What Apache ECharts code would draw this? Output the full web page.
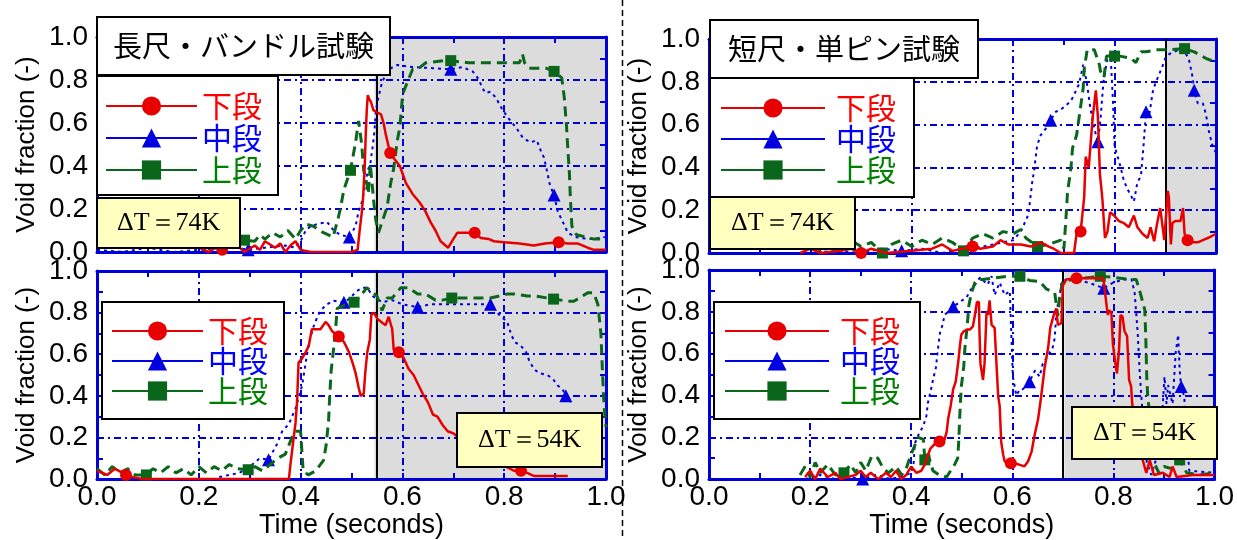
<!DOCTYPE html>
<html>
<head>
<meta charset="utf-8">
<script src="https://cdn.jsdelivr.net/npm/echarts@6/dist/echarts.min.js"></script>
<style>
html,body{margin:0;padding:0;background:#fff}
#chart{width:1237px;height:540px}
</style>
</head>
<body>
<div id="chart"></div>
<script>
// ---------------- data ----------------
const SERIES_NAMES = ['下段', '中段', '上段'];
const PANEL_TITLES = ['長尺・バンドル試験', '短尺・単ピン試験'];
const DT_LABELS = ['ΔT＝74K', 'ΔT＝74K', 'ΔT＝54K', 'ΔT＝54K'];
const SHADE_START = [0.545, 0.903, 0.545, 0.703];   // start of shaded time window, s
const X_NAME = 'Time (seconds)';
const Y_NAME = 'Void fraction (-)';

// long bundle, ΔT = 74 K
const TL_RED = [[0.20,0.02],[0.22,0.0],[0.24,0.03],[0.27,0.04],[0.29,0.0],[0.31,0.03],[0.32,0.01],[0.33,0.05],[0.35,0.02],[0.36,0.04],[0.37,0.0],[0.38,0.03],[0.39,0.05],[0.40,0.01],[0.42,0.0],[0.46,0.0],[0.50,0.0],[0.512,0.01],[0.516,0.10],[0.52,0.18],[0.523,0.26],[0.526,0.40],[0.528,0.55],[0.53,0.66],[0.532,0.73],[0.535,0.71],[0.538,0.70],[0.543,0.66],[0.55,0.65],[0.558,0.64],[0.563,0.60],[0.568,0.54],[0.585,0.43],[0.595,0.40],[0.607,0.32],[0.62,0.27],[0.634,0.23],[0.645,0.19],[0.655,0.14],[0.665,0.10],[0.675,0.05],[0.69,0.02],[0.70,0.06],[0.708,0.09],[0.72,0.09],[0.734,0.09],[0.754,0.065],[0.77,0.06],[0.78,0.05],[0.80,0.045],[0.83,0.04],[0.858,0.03],[0.88,0.04],[0.925,0.04],[0.944,0.04],[0.964,0.02],[0.976,0.01],[1.0,0.01]];
const TL_RED_MARKS = [[0.246,0.01],[0.576,0.46],[0.742,0.09],[0.907,0.045]];
const TL_BLUE = [[0.0,0.01],[0.05,0.0],[0.10,0.02],[0.15,0.0],[0.20,0.01],[0.25,0.02],[0.26,0.03],[0.33,0.02],[0.37,0.03],[0.39,0.02],[0.40,0.05],[0.41,0.10],[0.42,0.12],[0.433,0.13],[0.452,0.14],[0.465,0.10],[0.478,0.08],[0.508,0.12],[0.514,0.19],[0.52,0.23],[0.526,0.30],[0.532,0.38],[0.537,0.41],[0.541,0.48],[0.545,0.56],[0.548,0.66],[0.553,0.72],[0.56,0.79],[0.573,0.85],[0.59,0.87],[0.62,0.86],[0.66,0.855],[0.718,0.86],[0.738,0.84],[0.748,0.81],[0.758,0.76],[0.763,0.74],[0.773,0.745],[0.783,0.72],[0.797,0.66],[0.809,0.62],[0.823,0.58],[0.837,0.53],[0.852,0.51],[0.864,0.52],[0.872,0.47],[0.878,0.44],[0.882,0.40],[0.89,0.31],[0.905,0.19],[0.915,0.14],[0.925,0.09],[0.94,0.07],[0.951,0.065],[0.974,0.06],[1.0,0.07]];
const TL_BLUE_MARKS = [[0.297,0.01],[0.496,0.07],[0.695,0.85],[0.898,0.265]];
const TL_GREEN = [[0.0,0.03],[0.05,0.05],[0.10,0.02],[0.15,0.06],[0.20,0.03],[0.25,0.07],[0.27,0.04],[0.31,0.05],[0.32,0.08],[0.33,0.06],[0.345,0.09],[0.36,0.07],[0.375,0.10],[0.39,0.06],[0.40,0.10],[0.41,0.13],[0.425,0.12],[0.445,0.09],[0.464,0.07],[0.474,0.16],[0.478,0.20],[0.485,0.29],[0.508,0.51],[0.514,0.61],[0.52,0.50],[0.524,0.38],[0.53,0.32],[0.533,0.27],[0.537,0.41],[0.543,0.25],[0.547,0.16],[0.553,0.09],[0.563,0.16],[0.57,0.21],[0.577,0.32],[0.583,0.39],[0.59,0.52],[0.595,0.58],[0.60,0.72],[0.603,0.75],[0.62,0.85],[0.63,0.85],[0.646,0.88],[0.68,0.89],[0.73,0.88],[0.764,0.88],[0.807,0.88],[0.83,0.88],[0.836,0.92],[0.84,0.88],[0.848,0.855],[0.882,0.855],[0.913,0.81],[0.918,0.72],[0.922,0.60],[0.925,0.48],[0.928,0.37],[0.93,0.25],[0.933,0.12],[0.942,0.08],[0.96,0.07],[0.976,0.06],[1.0,0.06]];
const TL_GREEN_MARKS = [[0.29,0.055],[0.498,0.38],[0.695,0.89],[0.898,0.84]];

// short single pin, ΔT = 74 K
const TR_RED = [[0.18,0.0],[0.20,0.02],[0.22,0.0],[0.26,0.01],[0.28,0.02],[0.32,0.02],[0.35,0.0],[0.40,0.01],[0.44,0.02],[0.46,0.04],[0.48,0.01],[0.50,0.02],[0.535,0.02],[0.56,0.03],[0.575,0.06],[0.59,0.04],[0.615,0.04],[0.635,0.03],[0.655,0.05],[0.67,0.03],[0.68,0.02],[0.694,0.0],[0.72,0.0],[0.725,0.09],[0.74,0.26],[0.743,0.45],[0.749,0.40],[0.757,0.64],[0.763,0.76],[0.767,0.64],[0.771,0.37],[0.776,0.25],[0.779,0.14],[0.781,0.07],[0.786,0.10],[0.791,0.19],[0.799,0.175],[0.808,0.15],[0.818,0.14],[0.828,0.12],[0.838,0.175],[0.845,0.12],[0.855,0.09],[0.865,0.07],[0.871,0.12],[0.878,0.055],[0.884,0.14],[0.89,0.21],[0.898,0.06],[0.905,0.29],[0.907,0.26],[0.911,0.04],[0.914,0.14],[0.92,0.15],[0.93,0.15],[0.935,0.21],[0.938,0.09],[0.954,0.05],[0.964,0.05],[0.974,0.06],[0.984,0.07],[1.0,0.09]];
const TR_RED_MARKS = [[0.30,0.0],[0.52,0.03],[0.733,0.10],[0.944,0.06]];
const TR_BLUE = [[0.20,0.0],[0.25,0.01],[0.30,0.0],[0.34,0.02],[0.42,0.02],[0.46,0.0],[0.50,0.02],[0.54,0.03],[0.58,0.05],[0.60,0.06],[0.615,0.10],[0.63,0.18],[0.638,0.34],[0.641,0.38],[0.647,0.50],[0.654,0.55],[0.664,0.58],[0.684,0.66],[0.694,0.67],[0.704,0.69],[0.714,0.71],[0.73,0.79],[0.738,0.88],[0.745,0.80],[0.752,0.68],[0.76,0.58],[0.772,0.62],[0.778,0.80],[0.785,0.90],[0.792,0.93],[0.797,0.70],[0.80,0.50],[0.806,0.45],[0.812,0.40],[0.818,0.34],[0.825,0.30],[0.832,0.27],[0.838,0.24],[0.845,0.33],[0.852,0.36],[0.857,0.50],[0.868,0.64],[0.875,0.75],[0.88,0.79],[0.887,0.83],[0.894,0.87],[0.90,0.91],[0.908,0.93],[0.927,0.95],[0.937,0.95],[0.947,0.90],[0.954,0.82],[0.964,0.70],[0.974,0.70],[0.98,0.65],[0.986,0.57],[0.994,0.49],[1.0,0.47]];
const TR_BLUE_MARKS = [[0.38,0.01],[0.674,0.62],[0.767,0.52],[0.862,0.66],[0.957,0.76]];
const TR_GREEN = [[0.18,0.02],[0.20,0.05],[0.22,0.01],[0.24,0.04],[0.26,0.02],[0.28,0.06],[0.30,0.03],[0.32,0.05],[0.36,0.04],[0.38,0.06],[0.40,0.03],[0.42,0.06],[0.44,0.04],[0.46,0.07],[0.48,0.05],[0.52,0.07],[0.54,0.09],[0.56,0.07],[0.58,0.10],[0.60,0.09],[0.615,0.11],[0.625,0.07],[0.67,0.04],[0.694,0.06],[0.70,0.02],[0.704,0.16],[0.707,0.28],[0.714,0.40],[0.717,0.49],[0.725,0.55],[0.731,0.65],[0.738,0.77],[0.74,0.86],[0.746,0.95],[0.76,0.95],[0.77,0.88],[0.772,0.85],[0.779,0.82],[0.784,0.92],[0.81,0.92],[0.832,0.91],[0.842,0.89],[0.852,0.94],[0.862,0.94],[0.885,0.95],[0.905,0.95],[0.957,0.94],[0.98,0.91],[1.0,0.89]];
const TR_GREEN_MARKS = [[0.342,0.0],[0.502,0.01],[0.648,0.03],[0.80,0.92],[0.938,0.955]];

// long bundle, ΔT = 54 K
const BL_RED = [[0.0,0.04],[0.02,0.02],[0.035,0.05],[0.07,0.01],[0.09,0.0],[0.2,0.0],[0.3,0.0],[0.377,0.0],[0.38,0.07],[0.385,0.17],[0.39,0.27],[0.393,0.37],[0.396,0.56],[0.403,0.58],[0.41,0.61],[0.416,0.64],[0.422,0.72],[0.43,0.72],[0.439,0.72],[0.449,0.755],[0.455,0.74],[0.462,0.71],[0.485,0.66],[0.495,0.61],[0.502,0.56],[0.508,0.51],[0.514,0.44],[0.518,0.40],[0.524,0.41],[0.527,0.51],[0.531,0.61],[0.536,0.67],[0.539,0.79],[0.544,0.80],[0.551,0.77],[0.561,0.75],[0.567,0.74],[0.573,0.78],[0.58,0.72],[0.583,0.62],[0.603,0.58],[0.612,0.53],[0.622,0.50],[0.632,0.45],[0.64,0.41],[0.65,0.37],[0.66,0.31],[0.669,0.30],[0.679,0.26],[0.689,0.23],[0.70,0.22],[0.72,0.18],[0.75,0.13],[0.77,0.10],[0.793,0.07],[0.807,0.055],[0.82,0.04],[0.845,0.03],[0.858,0.015],[0.9,0.015],[0.925,0.015]];
const BL_RED_MARKS = [[0.057,0.02],[0.475,0.685],[0.593,0.61],[0.833,0.04]];
const BL_BLUE = [[0.24,0.01],[0.28,0.03],[0.30,0.06],[0.31,0.08],[0.32,0.10],[0.354,0.17],[0.364,0.23],[0.377,0.265],[0.39,0.34],[0.396,0.39],[0.403,0.45],[0.41,0.56],[0.416,0.65],[0.425,0.73],[0.433,0.78],[0.439,0.81],[0.452,0.84],[0.465,0.857],[0.498,0.87],[0.508,0.90],[0.521,0.92],[0.531,0.92],[0.541,0.88],[0.56,0.85],[0.58,0.86],[0.60,0.84],[0.655,0.84],[0.70,0.84],[0.74,0.84],[0.79,0.79],[0.806,0.755],[0.813,0.70],[0.82,0.66],[0.833,0.64],[0.843,0.61],[0.849,0.57],[0.858,0.53],[0.868,0.51],[0.885,0.50],[0.896,0.48],[0.905,0.45],[0.915,0.43],[0.931,0.37]];
const BL_BLUE_MARKS = [[0.337,0.093],[0.485,0.85],[0.63,0.826],[0.773,0.84],[0.921,0.40]];
const BL_GREEN = [[0.0,0.05],[0.015,0.02],[0.03,0.06],[0.045,0.03],[0.06,0.05],[0.075,0.02],[0.11,0.05],[0.125,0.03],[0.14,0.06],[0.155,0.03],[0.17,0.05],[0.185,0.02],[0.20,0.06],[0.215,0.03],[0.23,0.06],[0.245,0.04],[0.26,0.07],[0.275,0.05],[0.31,0.06],[0.325,0.04],[0.34,0.07],[0.355,0.10],[0.37,0.12],[0.383,0.20],[0.39,0.23],[0.40,0.23],[0.405,0.04],[0.415,0.02],[0.43,0.04],[0.445,0.09],[0.45,0.16],[0.455,0.28],[0.457,0.39],[0.46,0.52],[0.465,0.63],[0.469,0.73],[0.472,0.82],[0.49,0.84],[0.51,0.86],[0.524,0.90],[0.53,0.92],[0.55,0.88],[0.56,0.81],[0.57,0.87],[0.58,0.87],[0.597,0.92],[0.612,0.92],[0.63,0.89],[0.645,0.89],[0.665,0.86],[0.678,0.86],[0.73,0.87],[0.75,0.87],[0.773,0.87],[0.807,0.89],[0.82,0.89],[0.846,0.88],[0.862,0.88],[0.925,0.855],[0.937,0.855],[0.964,0.895],[0.976,0.895],[0.984,0.84],[0.99,0.70],[0.993,0.52],[0.996,0.36],[1.0,0.25]];
const BL_GREEN_MARKS = [[0.097,0.02],[0.297,0.045],[0.505,0.85],[0.697,0.87],[0.897,0.865]];

// short single pin, ΔT = 54 K
const BR_RED = [[0.19,0.01],[0.20,0.04],[0.21,0.0],[0.22,0.05],[0.235,0.01],[0.25,0.03],[0.26,0.0],[0.29,0.02],[0.30,0.04],[0.31,0.01],[0.32,0.03],[0.335,0.0],[0.35,0.03],[0.36,0.01],[0.37,0.04],[0.38,0.0],[0.39,0.02],[0.40,0.06],[0.41,0.03],[0.42,0.04],[0.427,0.07],[0.433,0.115],[0.438,0.146],[0.447,0.17],[0.466,0.19],[0.47,0.225],[0.473,0.287],[0.478,0.35],[0.483,0.43],[0.488,0.466],[0.493,0.56],[0.496,0.63],[0.499,0.69],[0.504,0.707],[0.51,0.715],[0.516,0.715],[0.522,0.73],[0.526,0.785],[0.53,0.847],[0.534,0.847],[0.535,0.707],[0.537,0.551],[0.542,0.474],[0.545,0.551],[0.547,0.676],[0.549,0.80],[0.552,0.785],[0.555,0.855],[0.559,0.738],[0.565,0.723],[0.569,0.535],[0.572,0.396],[0.575,0.349],[0.578,0.178],[0.582,0.115],[0.585,0.084],[0.605,0.076],[0.615,0.068],[0.624,0.061],[0.631,0.084],[0.638,0.13],[0.644,0.21],[0.651,0.287],[0.657,0.395],[0.664,0.535],[0.671,0.63],[0.675,0.723],[0.682,0.785],[0.687,0.816],[0.69,0.738],[0.697,0.746],[0.70,0.925],[0.707,0.955],[0.75,0.96],[0.78,0.96],[0.787,0.82],[0.789,0.785],[0.792,0.808],[0.796,0.793],[0.799,0.645],[0.804,0.551],[0.807,0.505],[0.811,0.614],[0.814,0.785],[0.818,0.777],[0.822,0.707],[0.827,0.684],[0.831,0.474],[0.835,0.443],[0.837,0.364],[0.845,0.22],[0.852,0.12],[0.858,0.09],[0.865,0.03],[0.872,0.09],[0.88,0.02],[0.898,0.03],[0.911,0.01],[0.917,0.06],[0.925,0.01],[0.957,0.02],[1.0,0.02]];
const BR_RED_MARKS = [[0.456,0.18],[0.597,0.076],[0.727,0.96]];
const BR_BLUE = [[0.19,0.0],[0.22,0.02],[0.25,0.0],[0.28,0.01],[0.33,0.02],[0.36,0.0],[0.39,0.02],[0.40,0.03],[0.405,0.08],[0.407,0.17],[0.414,0.21],[0.424,0.255],[0.43,0.302],[0.433,0.364],[0.439,0.427],[0.443,0.474],[0.449,0.535],[0.451,0.582],[0.454,0.645],[0.457,0.70],[0.462,0.738],[0.466,0.785],[0.496,0.847],[0.51,0.87],[0.516,0.90],[0.525,0.925],[0.536,0.964],[0.551,0.93],[0.559,0.97],[0.565,0.88],[0.575,0.94],[0.585,0.88],[0.595,0.90],[0.601,0.49],[0.608,0.40],[0.615,0.43],[0.621,0.43],[0.645,0.52],[0.654,0.49],[0.66,0.55],[0.668,0.58],[0.68,0.63],[0.684,0.676],[0.687,0.80],[0.694,0.88],[0.697,0.94],[0.707,0.955],[0.72,0.955],[0.75,0.94],[0.80,0.94],[0.82,0.955],[0.836,0.955],[0.842,0.89],[0.848,0.70],[0.852,0.51],[0.858,0.30],[0.866,0.08],[0.875,0.02],[0.885,0.10],[0.895,0.25],[0.901,0.49],[0.905,0.36],[0.908,0.45],[0.917,0.36],[0.923,0.60],[0.928,0.69],[0.931,0.52],[0.94,0.396],[0.945,0.20],[0.95,0.04],[0.964,0.037],[1.0,0.03]];
const BR_BLUE_MARKS = [[0.304,0.0],[0.483,0.824],[0.634,0.466],[0.781,0.913],[0.934,0.443]];
const BR_GREEN = [[0.18,0.02],[0.19,0.06],[0.20,0.01],[0.21,0.08],[0.22,0.03],[0.235,0.07],[0.25,0.02],[0.28,0.07],[0.29,0.03],[0.30,0.08],[0.31,0.04],[0.322,0.11],[0.334,0.10],[0.345,0.05],[0.355,0.03],[0.37,0.06],[0.381,0.02],[0.39,0.05],[0.40,0.12],[0.414,0.20],[0.424,0.19],[0.433,0.12],[0.443,0.04],[0.455,0.02],[0.47,0.01],[0.486,0.07],[0.492,0.10],[0.494,0.18],[0.496,0.30],[0.499,0.44],[0.504,0.54],[0.506,0.62],[0.511,0.74],[0.514,0.83],[0.519,0.89],[0.526,0.94],[0.532,0.955],[0.541,0.955],[0.56,0.96],[0.59,0.97],[0.634,0.95],[0.654,0.945],[0.667,0.91],[0.684,0.89],[0.69,0.78],[0.694,0.88],[0.70,0.945],[0.72,0.955],[0.80,0.965],[0.83,0.955],[0.845,0.955],[0.852,0.90],[0.862,0.81],[0.864,0.68],[0.866,0.48],[0.868,0.39],[0.875,0.25],[0.88,0.08],[0.89,0.03],[0.90,0.06],[0.915,0.05],[0.945,0.03],[0.97,0.02],[1.0,0.03]];
const BR_GREEN_MARKS = [[0.267,0.03],[0.427,0.092],[0.615,0.97],[0.774,0.97],[0.931,0.092]];

// panel order: top-left, top-right, bottom-left, bottom-right
const PANELS = [
  {red: TL_RED, redMarks: TL_RED_MARKS, blue: TL_BLUE, blueMarks: TL_BLUE_MARKS, green: TL_GREEN, greenMarks: TL_GREEN_MARKS},
  {red: TR_RED, redMarks: TR_RED_MARKS, blue: TR_BLUE, blueMarks: TR_BLUE_MARKS, green: TR_GREEN, greenMarks: TR_GREEN_MARKS},
  {red: BL_RED, redMarks: BL_RED_MARKS, blue: BL_BLUE, blueMarks: BL_BLUE_MARKS, green: BL_GREEN, greenMarks: BL_GREEN_MARKS},
  {red: BR_RED, redMarks: BR_RED_MARKS, blue: BR_BLUE, blueMarks: BR_BLUE_MARKS, green: BR_GREEN, greenMarks: BR_GREEN_MARKS}
];

// ---------------- layout & style ----------------
const FRAME = '#0000d8';
const GRIDS = [
  {left: 97,  top: 37,  width: 509, height: 215},
  {left: 709, top: 39,  width: 507, height: 214},
  {left: 97,  top: 271, width: 509, height: 214},
  {left: 709, top: 270, width: 507, height: 213}
];
const STYLE = {
  red:   {symbol: 'circle',   size: 12, color: '#e80000', width: 2.5, type: 'solid', z: 4},
  blue:  {symbol: 'triangle', size: 13, color: '#0000e0', width: 2,   type: [3, 4],  z: 2},
  green: {symbol: 'rect',     size: 11, color: '#0a661a', width: 3,   type: [10, 6], z: 3}
};
const SANS = 'Liberation Sans, Arial, sans-serif';
const JP = 'Noto Sans CJK JP, sans-serif';
const SERIF = 'Liberation Serif, Times New Roman, serif';

// line points, with the marker points merged in (only those carry a symbol)
function withMarks(line, marks) {
  const pts = line.map(p => ({value: p, symbol: 'none'}));
  marks.forEach(m => pts.push({value: m}));
  pts.sort((a, b) => a.value[0] - b.value[0]);
  return pts;
}

function lineSeries(name, line, marks, gi, kind) {
  const st = STYLE[kind];
  return {
    name: name, type: 'line', xAxisIndex: 2 * gi, yAxisIndex: 2 * gi,
    data: withMarks(line, marks),
    symbol: st.symbol, symbolSize: st.size, showSymbol: true, showAllSymbol: true,
    itemStyle: {color: st.color},
    lineStyle: {color: st.color, width: st.width, type: st.type},
    emphasis: {disabled: true}, silent: true, animation: false, z: st.z
  };
}

const tickCommon = {
  axisLine: {show: true, onZero: false, lineStyle: {color: FRAME, width: 3}},
  axisTick: {show: true, inside: true, length: 6, lineStyle: {color: FRAME, width: 2}},
  minorTick: {show: true, splitNumber: 2, length: 6, lineStyle: {color: FRAME, width: 2}}
};

const xAxes = [], yAxes = [], series = [];
GRIDS.forEach((g, i) => {
  const bottomRow = i >= 2;
  xAxes.push(Object.assign({
    type: 'value', gridIndex: i, min: 0, max: 1, interval: 0.2, position: 'bottom',
    splitLine: {show: true, lineStyle: {color: FRAME, width: 2, type: [7, 4, 2, 4]}},
    axisLabel: bottomRow ? {show: true, fontSize: 28, fontFamily: SANS, color: '#000', margin: 4,
      formatter: v => v.toFixed(1)} : {show: false},
    name: bottomRow ? X_NAME : '', nameLocation: 'middle', nameGap: 31,
    nameTextStyle: {fontSize: 27, fontFamily: SANS, color: '#000'}
  }, tickCommon));
  xAxes.push(Object.assign({
    type: 'value', gridIndex: i, min: 0, max: 1, interval: 0.2, position: 'top',
    splitLine: {show: false}, axisLabel: {show: false}
  }, tickCommon));
  yAxes.push(Object.assign({
    type: 'value', gridIndex: i, min: 0, max: 1, interval: 0.2, position: 'left',
    splitLine: {show: true, lineStyle: {color: FRAME, width: 2, type: [7, 4, 2, 4]}},
    axisLabel: {show: true, fontSize: 28, fontFamily: SANS, color: '#000', margin: 9,
      padding: [0, 0, 18, 0], formatter: v => v.toFixed(1)},
    name: Y_NAME, nameLocation: 'middle', nameRotate: 90, nameGap: 57,
    nameTextStyle: {fontSize: 26, fontFamily: SANS, color: '#000'}
  }, tickCommon));
  yAxes.push(Object.assign({
    type: 'value', gridIndex: i, min: 0, max: 1, interval: 0.2, position: 'right',
    splitLine: {show: false}, axisLabel: {show: false}
  }, tickCommon));

  const p = PANELS[i];
  series.push(lineSeries(SERIES_NAMES[1], p.blue, p.blueMarks, i, 'blue'));
  series.push(lineSeries(SERIES_NAMES[2], p.green, p.greenMarks, i, 'green'));
  const red = lineSeries(SERIES_NAMES[0], p.red, p.redMarks, i, 'red');
  red.markArea = {silent: true, z: -1, itemStyle: {color: '#dcdcdc'},
    data: [[{xAxis: SHADE_START[i]}, {xAxis: 1}]]};
  red.markLine = {silent: true, z: 1, symbol: 'none', label: {show: false},
    lineStyle: {color: '#000', width: 2, type: 'solid'}, data: [{xAxis: SHADE_START[i]}]};
  series.push(red);
});

const legendItems = [
  {name: SERIES_NAMES[0], textStyle: {color: '#ff0000'}},
  {name: SERIES_NAMES[1], textStyle: {color: '#0000ff'}},
  {name: SERIES_NAMES[2], textStyle: {color: '#008000'}}
];
function legendBox(left, top, itemWidth, pad, gap, textPadLeft) {
  return {
    show: true, orient: 'vertical', left: left, top: top,
    itemWidth: itemWidth, itemHeight: 24, itemGap: gap, padding: pad,
    backgroundColor: '#fff', borderColor: '#000', borderWidth: 2, borderRadius: 0,
    selectedMode: false, lineStyle: {type: 'solid', width: 2},
    textStyle: {fontSize: 30, lineHeight: 30, fontFamily: JP, padding: [0, 0, 0, textPadLeft]},
    data: legendItems
  };
}

function boxTitle(text, left, top, pad, font, bg) {
  return {
    text: text, left: left, top: top, padding: pad,
    backgroundColor: bg, borderColor: '#000', borderWidth: 2,
    textStyle: {fontSize: font.size, lineHeight: font.lh, fontWeight: 'normal',
      fontFamily: font.family, color: '#000'}
  };
}
const jpFont = {size: 29, lh: 32, family: JP};
const dtFont = {size: 26, lh: 26, family: SERIF};
const DT_BG = '#ffffc0';

const option = {
  backgroundColor: '#fff',
  animation: false,
  grid: GRIDS.map(g => Object.assign({show: false}, g)),
  xAxis: xAxes,
  yAxis: yAxes,
  series: series,
  legend: [
    legendBox(97, 76, 91, [15, 16, 10, 8], 2, 0),
    legendBox(710, 78, 104, [15, 18, 12, 10], 1, 6),
    legendBox(102, 302, 91, [14, 16, 13, 9], 0, 0),
    legendBox(714, 302, 104, [14, 20, 13, 10], 0, 6)
  ],
  title: [
    boxTitle(PANEL_TITLES[0], 97, 17, [13, 16], jpFont, '#fff'),
    boxTitle(PANEL_TITLES[1], 710, 20, [13, 18], jpFont, '#fff'),
    boxTitle(DT_LABELS[0], 97, 198, [12, 20], dtFont, DT_BG),
    boxTitle(DT_LABELS[1], 710, 197, [13, 21], dtFont, DT_BG),
    boxTitle(DT_LABELS[2], 457, 413, [14, 21], dtFont, DT_BG),
    boxTitle(DT_LABELS[3], 1072, 407, [13, 21], dtFont, DT_BG)
  ],
  graphic: [{
    type: 'line', silent: true, z: 100,
    shape: {x1: 622.5, y1: 0, x2: 622.5, y2: 540},
    style: {stroke: '#000', lineWidth: 1.5, lineDash: [6, 4]}
  }]
};

const chart = echarts.init(document.getElementById('chart'), null, {renderer: 'canvas'});
chart.setOption(option);
</script>
</body>
</html>
